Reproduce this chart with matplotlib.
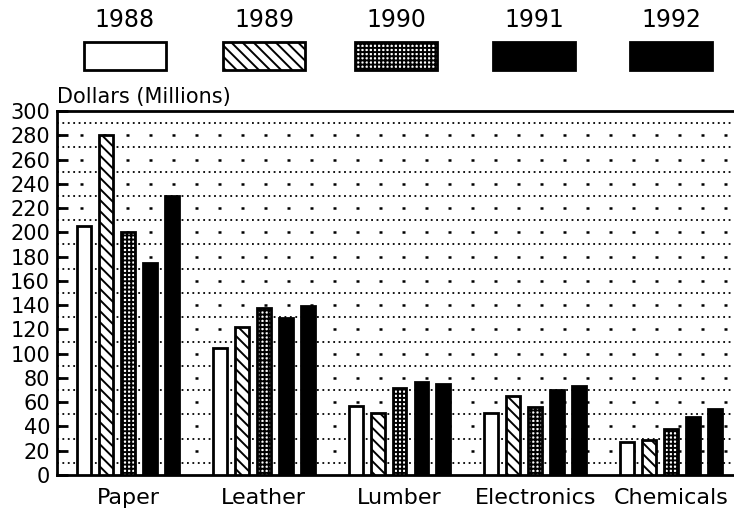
import numpy as np
import matplotlib
matplotlib.use("Agg")
import matplotlib.pyplot as plt
from matplotlib.patches import Rectangle

# Daten
categories = ["Paper", "Leather", "Lumber", "Electronics", "Chemicals"]
years = ["1988", "1989", "1990", "1991", "1992"]
v1988 = [205, 105, 57, 51, 27]
v1989 = [280, 122, 51, 65, 29]
v1990 = [200, 138, 72, 56, 38]
v1991 = [175, 129, 77, 70, 48]
v1992 = [230, 139, 75, 73, 54]
series = [v1988, v1989, v1990, v1991, v1992]

# Stil je Jahr: Fuellfarbe und Schraffur
faces = ["white", "white", "white", "black", "black"]
hatches = [None, "\\\\\\", "++++", None, None]

plt.rcParams["font.family"] = "DejaVu Sans"
plt.rcParams["hatch.linewidth"] = 1.4

W, H = 734, 511
fig = plt.figure(figsize=(W / 100, H / 100), dpi=100)
ax = fig.add_axes([57 / W, (H - 475) / H, (W - 57) / W, (475 - 111) / H])

x = np.arange(len(categories))
pitch = 0.162
width = 0.103
for i, vals in enumerate(series):
    ax.bar(x + (i - 2) * pitch, vals, width, color=faces[i], edgecolor="black",
           linewidth=2, hatch=hatches[i], zorder=3)

# Gepunktete Rasterlinien: grob bei 20er, fein bei ungeraden 10er
for y in range(20, 300, 20):
    ax.axhline(y, color="black", linestyle=(0, (1.2, 8)), linewidth=1.8, zorder=1)
for y in range(10, 300, 20):
    ax.axhline(y, color="black", linestyle=(0, (1, 2)), linewidth=1.3, zorder=1)

ax.set_xlim(-0.523, 4.464)
ax.set_ylim(0, 300)
ax.set_yticks(np.arange(0, 301, 20))
ax.set_xticks(x)
ax.set_xticklabels(categories, fontsize=16)
ax.tick_params(axis="y", direction="in", length=8, width=2, labelsize=15, pad=5)
ax.tick_params(axis="x", length=0, pad=9)
for s in ["left", "bottom", "top"]:
    ax.spines[s].set_linewidth(2)
ax.spines["right"].set_visible(False)

fig.text(57 / W, 1 - 97 / H, "Dollars (Millions)", fontsize=15, va="center", ha="left")

# Legende oben: Jahr ueber Kaestchen
centers = [125, 264, 396, 534, 671]
for i, yr in enumerate(years):
    cx = centers[i]
    r = Rectangle(((cx - 41) / W, 1 - 70 / H), 82 / W, 28 / H, transform=fig.transFigure,
                  facecolor=faces[i], edgecolor="black", linewidth=2, hatch=hatches[i])
    fig.patches.append(r)
    fig.text(cx / W, 1 - 20 / H, yr, fontsize=17, ha="center", va="center")

fig.savefig("out.png", dpi=100)
